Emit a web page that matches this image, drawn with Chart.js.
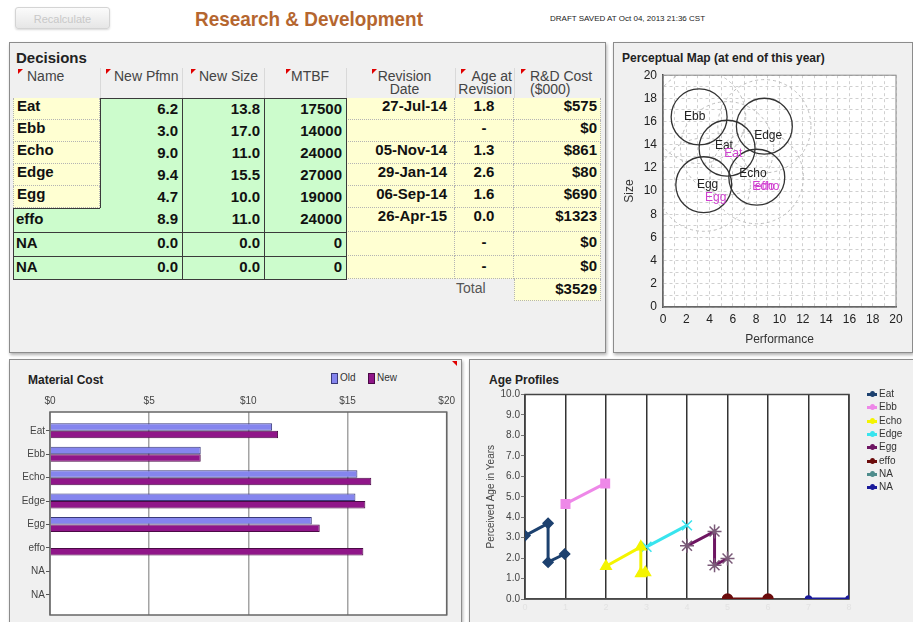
<!DOCTYPE html>
<html>
<head>
<meta charset="utf-8">
<title>Research &amp; Development</title>
<script src="https://cdn.jsdelivr.net/npm/chart.js@4.4.0/dist/chart.umd.min.js"></script>
<style>
  html, body { margin: 0; padding: 0; }
  body { width: 913px; height: 622px; overflow: hidden; position: relative; background: #fff;
         font-family: "Liberation Sans", Arial, Helvetica, sans-serif; }
  .panel { position: absolute; background: #f0f0f0; border: 1px solid #8c8c8c; box-sizing: border-box;
           box-shadow: 1px 2px 3px rgba(0,0,0,0.3); }
  .ptitle { position: absolute; font-weight: bold; font-size: 12px; color: #222; white-space: nowrap; }
  #recalc { position: absolute; left: 15px; top: 7px; width: 95px; height: 22px; border: 1px solid #d4d4d4;
            border-radius: 3px; background: linear-gradient(#fbfbfb, #e6e6e6); color: #c8c8c8; font-size: 11px;
            text-align: center; line-height: 22px; box-shadow: 0 1px 2px rgba(0,0,0,.15); box-sizing: border-box; }
  #title { position: absolute; left: 195px; top: 7px; font-size: 21px; font-weight: bold; color: #b5662f;
           white-space: nowrap; transform: scaleX(0.9); transform-origin: 0 0; }
  #draft { position: absolute; left: 550px; top: 14px; font-size: 8px; color: #222; white-space: nowrap; }
  .cell { position: absolute; box-sizing: border-box; font-size: 15px; font-weight: bold; color: #111;
          white-space: nowrap; line-height: 14px; }
  .yel { background: #ffffd2; border-right: 1px dotted #b4b4b4; border-bottom: 1px dotted #b4b4b4; }
  .grn { background: #ccfccc; }
  .hd { position: absolute; font-size: 14px; color: #444; line-height: 13px; white-space: nowrap; }
  .tri { position: absolute; width: 0; height: 0; border-top: 5px solid #e00000; border-right: 5px solid transparent; }
  .ln { position: absolute; background: #3a3a3a; }
  .sep { position: absolute; background: #d9d9d9; width: 1px; }
  canvas { position: absolute; }
  .lg { position: absolute; font-size: 10px; color: #333; white-space: nowrap; line-height: 12px; }
  .lg i { position: absolute; left: -12px; top: 5px; width: 10px; height: 3px; }
  .lg b { position: absolute; left: -9px; top: 3px; width: 5px; height: 6px; border-radius: 50%; }
</style>
</head>
<body>
<div id="recalc">Recalculate</div>
<div id="title">Research &amp; Development</div>
<div id="draft">DRAFT SAVED AT Oct 04, 2013 21:36 CST</div>

<!-- Decisions -->
<div class="panel" style="left:9px;top:42px;width:597px;height:311px;"></div>
<div class="ptitle" style="left:16px;top:49px;font-size:15px;">Decisions</div>
<div id="table"></div>

<!-- Perceptual map -->
<div class="panel" style="left:613px;top:42px;width:300px;height:311px;"></div>
<div class="ptitle" style="left:622px;top:51px;">Perceptual Map (at end of this year)</div>
<canvas id="mapChart" width="296" height="289" style="left:615px;top:62px;"></canvas>

<!-- Material cost -->
<div class="panel" style="left:9px;top:359px;width:453px;height:275px;"></div>
<div class="tri" style="left:452px;top:361px;border-top:5px solid #e00000;border-left:5px solid transparent;border-right:0;"></div>
<div class="ptitle" style="left:28px;top:373px;">Material Cost</div>
<div id="costLegend"></div>
<canvas id="costChart" width="448" height="238" style="left:12px;top:384px;"></canvas>

<!-- Age profiles -->
<div class="panel" style="left:469px;top:359px;width:446px;height:275px;"></div>
<div class="ptitle" style="left:489px;top:373px;">Age Profiles</div>
<canvas id="ageChart" width="438" height="236" style="left:472px;top:386px;"></canvas>
<div id="ageLegend"></div>

<script>
// ---- Decisions data ----
const products = ['Eat', 'Ebb', 'Echo', 'Edge', 'Egg', 'effo', 'NA', 'NA'];
const newPfmn = [6.2, 3.0, 9.0, 9.4, 4.7, 8.9, 0.0, 0.0];
const newSize = [13.8, 17.0, 11.0, 15.5, 10.0, 11.0, 0.0, 0.0];
const mtbf = [17500, 14000, 24000, 27000, 19000, 24000, 0, 0];
const revisionDate = ['27-Jul-14', '', '05-Nov-14', '29-Jan-14', '06-Sep-14', '26-Apr-15', '', ''];
const ageAtRevision = ['1.8', '-', '1.3', '2.6', '1.6', '0.0', '-', '-'];
const rdCost = [575, 0, 861, 80, 690, 1323, 0, 0];
const rdTotal = 3529;

// ---- Perceptual map data ----
const segX = [5.5, 3.1, 8.05, 8.7, 3.5];
const segY = [13.7, 16.4, 11.2, 15.6, 10.55];
const fineCutRadius = 2.4;
const roughCutRadius = 4;
const mapNowNames = ['Eat', 'Ebb', 'Echo', 'Edge', 'Egg'];
const mapNowPfmn = [5.4, 2.9, 7.9, 9.2, 4.0];
const mapNowSize = [14.5, 17.0, 12.1, 15.4, 11.2];
const mapNewNames = ['Eat', 'Echo', 'Egg', 'effo'];
const mapNewPfmn = [6.2, 9.0, 4.7, 8.9];
const mapNewSize = [13.8, 11.0, 10.0, 11.0];

// ---- Material cost data ----
const costOld = [11.2, 7.6, 15.5, 15.4, 13.2, null, null, null];
const costNew = [11.5, 7.6, 16.2, 15.9, 13.6, 15.8, null, null];

// ---- Age profile data ----
const eatX = [0, 0.57, 0.57, 0.98];   const eatY = [3.1, 3.7, 1.8, 2.2];
const ebbX = [1.0, 1.98];             const ebbY = [4.65, 5.65];
const echoX = [2.0, 2.86, 2.86, 2.97]; const echoY = [1.6, 2.55, 1.25, 1.3];
const edgeX = [3.0, 4.0];             const edgeY = [2.55, 3.6];
const eggX = [4.0, 4.68, 4.68, 5.0];  const eggY = [2.6, 3.3, 1.65, 1.98];
const effoX = [5.0, 6.0];             const effoY = [0, 0];
const na1X = [];                      const na1Y = [];   // nothing plotted for the first NA
const na2X = [7.0, 8.0];              const na2Y = [0, 0];

Chart.defaults.font.family = '"Liberation Sans", Arial, sans-serif';
Chart.defaults.animation = false;

// ========================================
// Decisions table
// ========================================
const colX = [13, 100, 182, 264, 346, 455, 514, 601];
const rowY = [98, 120, 142, 164, 186, 208, 232, 256, 279];

function addEl(cls, x, y, w, h, text, style) {
  const d = document.createElement('div');
  d.className = cls;
  d.style.cssText = `left:${x}px;top:${y}px;width:${w}px;height:${h}px;` + (style || '');
  if (text !== undefined) d.textContent = text;
  document.body.appendChild(d);
  return d;
}

function renderTable() {
  // header
  const hdrs = `
    <div class="tri" style="left:18px;top:69px;"></div><div class="hd" style="left:27px;top:70px;">Name</div>
    <div class="tri" style="left:106px;top:69px;"></div><div class="hd" style="left:114px;top:70px;">New Pfmn</div>
    <div class="tri" style="left:191px;top:69px;"></div><div class="hd" style="left:199px;top:70px;">New Size</div>
    <div class="tri" style="left:286px;top:69px;"></div><div class="hd" style="left:291px;top:70px;">MTBF</div>
    <div class="tri" style="left:372px;top:69px;"></div><div class="hd" style="left:350px;top:70px;width:109px;text-align:center;">Revision<br>Date</div>
    <div class="tri" style="left:461px;top:69px;"></div><div class="hd" style="left:455px;top:70px;width:57px;text-align:right;">Age at<br>Revision</div>
    <div class="tri" style="left:521px;top:69px;"></div><div class="hd" style="left:530px;top:70px;">R&amp;D Cost<br>($000)</div>
  `;
  document.getElementById('table').innerHTML = hdrs;
  [100, 182, 264, 346, 455, 514].forEach(x => addEl('sep', x, 68, 1, 30));

  products.forEach((name, i) => {
    const y = rowY[i], h = rowY[i + 1] - y;
    const nameOff = i < 5 ? 1 : 4;
    const sideOff = i < 6 ? 1 : 3;
    addEl('cell ' + (i < 5 ? 'yel' : 'grn'), colX[0], y, colX[1] - colX[0], h, name,
      `padding:${nameOff}px 0 0 3px;` + (i < 5 ? 'border-left:1px dotted #b4b4b4;' : ''));
    addEl('cell grn', colX[1], y, colX[2] - colX[1], h, newPfmn[i].toFixed(1), 'text-align:right;padding:4px 4px 0 0;');
    addEl('cell grn', colX[2], y, colX[3] - colX[2], h, newSize[i].toFixed(1), 'text-align:right;padding:4px 4px 0 0;');
    addEl('cell grn', colX[3], y, colX[4] - colX[3], h, String(mtbf[i]), 'text-align:right;padding:4px 4px 0 0;');
    addEl('cell yel', colX[4], y, colX[5] - colX[4], h, revisionDate[i], `text-align:right;padding:${sideOff}px 7px 0 0;`);
    addEl('cell yel', colX[5], y, colX[6] - colX[5], h, ageAtRevision[i], `text-align:center;padding:${sideOff}px 0 0 0;`);
    addEl('cell yel', colX[6], y, colX[7] - colX[6], h, '$' + rdCost[i], `text-align:right;padding:${sideOff}px 3px 0 0;`);
  });
  // total row
  addEl('hd', 456, 281, 40, 16, 'Total', 'font-size:14px;color:#555;line-height:14px;');
  addEl('cell yel', colX[6], rowY[8], colX[7] - colX[6], 22, '$' + rdTotal, 'text-align:right;padding:3px 3px 0 0;border-left:1px dotted #b4b4b4;');

  // dark borders around the green block
  addEl('ln', 100, 98, 246, 1);
  addEl('ln', 100, 98, 1, 110);
  addEl('ln', 13, 208, 87, 1);
  addEl('ln', 13, 208, 1, 72);
  addEl('ln', 182, 98, 1, 181);
  addEl('ln', 264, 98, 1, 181);
  addEl('ln', 346, 98, 1, 182);
  addEl('ln', 13, 232, 333, 1);
  addEl('ln', 13, 256, 333, 1);
  addEl('ln', 13, 279, 334, 1);
}
renderTable();

// ========================================
// Shared plugins
// ========================================
const plotFrame = {
  id: 'plotFrame',
  beforeDraw(chart) {
    const { ctx, chartArea: a } = chart;
    ctx.save();
    ctx.fillStyle = '#fff';
    ctx.fillRect(a.left, a.top, a.right - a.left, a.bottom - a.top);
    ctx.restore();
  },
  beforeDatasetsDraw(chart, args, opts) {
    const { ctx, chartArea: a } = chart;
    ctx.save();
    ctx.strokeStyle = opts.color || '#555';
    ctx.lineWidth = opts.width || 1;
    ctx.strokeRect(a.left, a.top, a.right - a.left, a.bottom - a.top);
    ctx.restore();
  }
};

const unitPx = (scale, r) => Math.abs(scale.getPixelForValue(r) - scale.getPixelForValue(0));

// ========================================
// Perceptual map
// ========================================
const mapOverlay = {
  id: 'mapOverlay',
  beforeDatasetsDraw(chart) {
    const { ctx, chartArea: a, scales: { x, y } } = chart;
    ctx.save();
    ctx.beginPath();
    ctx.rect(a.left, a.top, a.right - a.left, a.bottom - a.top);
    ctx.clip();
    ctx.setLineDash([3, 3]);
    ctx.strokeStyle = '#bdbdbd';
    ctx.lineWidth = 1;
    segX.forEach((sx, i) => {
      ctx.beginPath();
      ctx.arc(x.getPixelForValue(sx), y.getPixelForValue(segY[i]), unitPx(x, roughCutRadius), 0, Math.PI * 2);
      ctx.stroke();
    });
    ctx.restore();
  },
  afterDatasetsDraw(chart) {
    const { ctx, scales: { x, y } } = chart;
    ctx.save();
    ctx.font = '12px "Liberation Sans", Arial, sans-serif';
    ctx.textAlign = 'center';
    ctx.textBaseline = 'top';
    ctx.fillStyle = '#222';
    mapNowNames.forEach((n, i) => {
      ctx.fillText(n, x.getPixelForValue(mapNowPfmn[i]) - 2, y.getPixelForValue(mapNowSize[i]) + 1);
    });
    ctx.fillStyle = '#d040d0';
    mapNewNames.forEach((n, i) => {
      ctx.fillText(n, x.getPixelForValue(mapNewPfmn[i]) - 2, y.getPixelForValue(mapNewSize[i]) + 1);
    });
    ctx.restore();
  }
};

new Chart(document.getElementById('mapChart'), {
  type: 'scatter',
  data: {
    datasets: [{
      label: 'Segments',
      data: segX.map((sx, i) => ({ x: sx, y: segY[i] })),
      pointRadius: c => unitPx(c.chart.scales.x, fineCutRadius),
      pointHoverRadius: c => unitPx(c.chart.scales.x, fineCutRadius),
      pointBackgroundColor: 'rgba(0,0,0,0)',
      pointBorderColor: '#333',
      pointBorderWidth: 1.3,
      clip: false
    }]
  },
  options: {
    responsive: false,
    layout: { padding: { top: 11, right: 15 } },
    plugins: { legend: { display: false }, tooltip: { enabled: false }, plotFrame: { color: '#888' } },
    scales: {
      x: {
        type: 'linear', min: 0, max: 20,
        ticks: { stepSize: 1, autoSkip: false, maxRotation: 0, color: '#222', font: { size: 12 }, padding: 5,
                 callback: v => (v % 2 === 0 ? v : '') },
        grid: { color: '#d0d0d0', drawTicks: false },
        border: { color: '#444', width: 1.5, dash: [3, 3] },
        title: { display: true, text: 'Performance', color: '#333', font: { size: 12 }, padding: { top: 2 } },
        afterFit: s => { s.height = 44; }
      },
      y: {
        type: 'linear', min: 0, max: 20,
        ticks: { stepSize: 1, autoSkip: false, color: '#222', font: { size: 12 }, padding: 6,
                 callback: v => (v % 2 === 0 ? v : '') },
        grid: { color: '#d0d0d0', drawTicks: false },
        border: { color: '#444', width: 1.5, dash: [3, 3] },
        title: { display: true, text: 'Size', color: '#333', font: { size: 12 }, padding: { top: 7, bottom: 0 } },
        afterFit: s => { s.width = 48; }
      }
    }
  },
  plugins: [plotFrame, mapOverlay]
});

// ========================================
// Material cost
// ========================================
const costLegendEl = document.getElementById('costLegend');
costLegendEl.innerHTML = `
  <div style="position:absolute;left:331px;top:373px;width:5px;height:9px;background:#8585ee;border:1px solid #3a3a7a;"></div>
  <div class="lg" style="left:340px;top:372px;">Old</div>
  <div style="position:absolute;left:368px;top:373px;width:5px;height:9px;background:#901689;border:1px solid #4a0a45;"></div>
  <div class="lg" style="left:377px;top:372px;">New</div>`;

new Chart(document.getElementById('costChart'), {
  type: 'bar',
  data: {
    datasets: [
      { label: 'Old', data: costOld.map((v, i) => ({ x: v, y: i })), backgroundColor: '#8585ee', borderColor: '#3a3a7a', borderWidth: 1 },
      { label: 'New', data: costNew.map((v, i) => ({ x: v, y: i })), backgroundColor: '#901689', borderColor: '#4a0a45', borderWidth: 1 }
    ]
  },
  options: {
    responsive: false,
    indexAxis: 'y',
    layout: { padding: { right: 11, bottom: 5 } },
    datasets: { bar: { categoryPercentage: 0.64, barPercentage: 1 } },
    plugins: { legend: { display: false }, tooltip: { enabled: false }, plotFrame: { color: '#666', width: 1.5 } },
    scales: {
      x: {
        type: 'linear', position: 'top', min: 0, max: 20,
        ticks: { stepSize: 5, color: '#444', font: { size: 10 }, padding: 5, callback: v => '$' + v },
        grid: { color: '#a4a4a4', lineWidth: 1.5, drawTicks: false },
        border: { display: false },
        afterFit: s => { s.height = 28; }
      },
      y: {
        type: 'linear', reverse: true, offset: false, min: -0.8, max: 7.86,
        afterBuildTicks: s => { s.ticks = products.map((p, i) => ({ value: i })); },
        ticks: { autoSkip: false, color: '#444', font: { size: 10 }, padding: 1, callback: v => products[v] },
        grid: { offset: false, drawOnChartArea: false, tickLength: 4, color: '#555' },
        border: { display: false },
        afterFit: s => { s.width = 38; }
      }
    }
  },
  plugins: [plotFrame]
});

// ========================================
// Age profiles
// ========================================
const toPts = (xs, ys) => xs.map((x, i) => ({ x, y: ys[i] }));
const ageSets = [
  { label: 'Eat',  data: toPts(eatX, eatY),   color: '#1d416f', style: 'rectRot', r: 5 },
  { label: 'Ebb',  data: toPts(ebbX, ebbY),   color: '#ee88e8', style: 'rect', r: 6 },
  { label: 'Echo', data: toPts(echoX, echoY), color: '#f4f400', style: 'triangle', r: 6 },
  { label: 'Edge', data: toPts(edgeX, edgeY), color: '#38e4ee', style: 'crossRot', r: 7 },
  { label: 'Egg',  data: toPts(eggX, eggY),   color: '#6e1562', style: 'star', r: 7, pb: '#7a5a78' },
  { label: 'effo', data: toPts(effoX, effoY), color: '#6b0c0c', style: 'circle', r: 5 },
  { label: 'NA',   data: toPts(na1X, na1Y),   color: '#4e8c8c', style: 'cross', r: 3 },
  { label: 'NA',   data: toPts(na2X, na2Y),   color: '#1a1a9a', style: 'circle', r: 3 }
];

const ageChart = new Chart(document.getElementById('ageChart'), {
  type: 'line',
  data: {
    datasets: ageSets.map(s => ({
      label: s.label, data: s.data,
      borderColor: s.color, backgroundColor: s.color, borderWidth: 3,
      pointStyle: s.style, pointRadius: s.r, pointBorderColor: s.pb || s.color,
      pointBackgroundColor: s.color, pointBorderWidth: 1.5, tension: 0
    }))
  },
  options: {
    responsive: false,
    layout: { padding: { top: 8, right: 61 } },
    plugins: { legend: { display: false }, tooltip: { enabled: false }, plotFrame: { color: '#444', width: 1.5 } },
    scales: {
      x: {
        type: 'linear', min: 0, max: 8,
        ticks: { stepSize: 1, color: '#e2e2e2', font: { size: 9 }, padding: 3 },
        grid: { color: '#333', lineWidth: 1.5, drawTicks: false },
        border: { color: '#555', width: 1.5 },
        afterFit: s => { s.height = 23; }
      },
      y: {
        type: 'linear', min: 0, max: 10,
        ticks: { stepSize: 1, color: '#444', font: { size: 10 }, padding: 1, callback: v => v.toFixed(1) },
        grid: { drawOnChartArea: false, tickLength: 4, color: '#777' },
        border: { display: false },
        title: { display: true, text: 'Perceived Age in Years', color: '#444', font: { size: 10 }, padding: { top: 13, bottom: 2 } },
        afterFit: s => { s.width = 53; }
      }
    }
  },
  plugins: [plotFrame]
});

// legend for age profiles
const ageLegendEl = document.getElementById('ageLegend');
ageChart.data.datasets.forEach((ds, i) => {
  const item = document.createElement('div');
  item.className = 'lg';
  item.style.left = '879px';
  item.style.top = (388 + i * 13.3) + 'px';
  item.innerHTML = `<i style="background:${ds.borderColor}"></i><b style="background:${ds.borderColor}"></b>${ds.label}`;
  ageLegendEl.appendChild(item);
});
</script>
</body>
</html>
